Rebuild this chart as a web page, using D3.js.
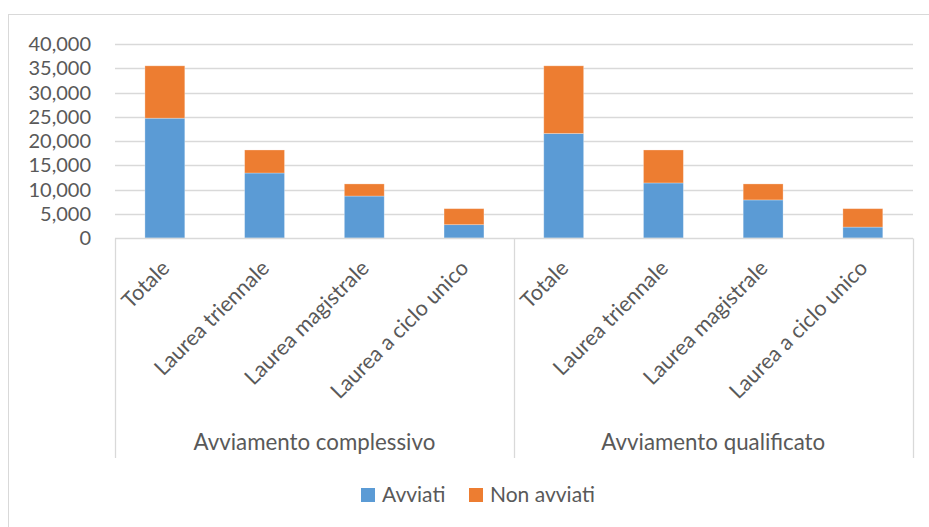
<!DOCTYPE html>
<html>
<head>
<meta charset="utf-8">
<script src="https://cdn.jsdelivr.net/npm/d3@7"></script>
<style>
  html, body { margin: 0; padding: 0; background: #fff; }
  svg { display: block; font-family: Lato, "Open Sans", sans-serif; }
</style>
</head>
<body>
<svg id="chart" width="929" height="527"></svg>
<script>
// Group labels (outer axis level) and category labels (inner axis level)
const groups = ["Avviamento complessivo", "Avviamento qualificato"];
const categories = ["Totale", "Laurea triennale", "Laurea magistrale", "Laurea a ciclo unico"];
const seriesNames = ["Avviati", "Non avviati"];
const seriesColors = ["#5b9bd5", "#ed7d31"];

// Values per bar, in order: complessivo (4 bars), then qualificato (4 bars)
const avviati    = [24700, 13400, 8650, 2750, 21550, 11350, 7850, 2250];
const nonAvviati = [10800,  4750, 2500, 3300, 13950,  6800, 3300, 3800];

const yTicks = [0, 5000, 10000, 15000, 20000, 25000, 30000, 35000, 40000];

const W = 929, H = 527;
const margin = { left: 115, right: 16, top: 44, plotBottom: 238 };
const svg = d3.select("#chart");

// outer chart frame
svg.append("rect")
  .attr("x", 8.5).attr("y", 14.5)
  .attr("width", 940).attr("height", 540)
  .attr("fill", "none").attr("stroke", "#d9d9d9").attr("stroke-width", 1);

const rows = [];
groups.forEach((g, gi) => categories.forEach((c, ci) => {
  const i = gi * categories.length + ci;
  rows.push({ key: g + "|" + c, group: g, cat: c, Avviati: avviati[i], "Non avviati": nonAvviati[i] });
}));

const x = d3.scaleBand()
  .domain(rows.map(d => d.key))
  .range([margin.left, W - margin.right - 0.3])
  .paddingInner(0.6).paddingOuter(0.3);

const y = d3.scaleLinear().domain([0, 40000]).range([margin.plotBottom, margin.top]);

// gridlines
svg.append("g")
  .selectAll("line").data(yTicks.slice(1)).join("line")
  .attr("x1", margin.left).attr("x2", W - margin.right)
  .attr("y1", d => Math.round(y(d)) + 0.5).attr("y2", d => Math.round(y(d)) + 0.5)
  .attr("stroke", "#d9d9d9").attr("stroke-width", 1.3);

// y axis labels
const fmt = d3.format(",");
svg.append("g")
  .selectAll("text").data(yTicks).join("text")
  .attr("x", 91).attr("y", d => y(d))
  .attr("dy", "0.36em")
  .attr("text-anchor", "end")
  .attr("fill", "#595959")
  .attr("font-size", 20)
  .text(d => fmt(d));

// stacked bars
const stack = d3.stack().keys(seriesNames);
const layers = stack(rows);
svg.append("g")
  .selectAll("g").data(layers).join("g")
  .attr("fill", (d, i) => seriesColors[i])
  .selectAll("rect").data(d => d).join("rect")
  .attr("x", d => x(d.data.key))
  .attr("width", x.bandwidth())
  .attr("y", d => y(d[1]))
  .attr("height", d => y(d[0]) - y(d[1]))
  .attr("stroke", "#fff").attr("stroke-opacity", 0.35).attr("stroke-width", 0.8);

// category axis line
const axisY = Math.round(y(0)) + 0.5;
svg.append("line")
  .attr("x1", margin.left).attr("x2", W - margin.right)
  .attr("y1", axisY).attr("y2", axisY)
  .attr("stroke", "#d9d9d9").attr("stroke-width", 1.3);

// group separators
const groupEdges = d3.range(groups.length + 1).map(i => margin.left + i * categories.length * (W - margin.right - 0.3 - margin.left) / rows.length);
svg.append("g")
  .selectAll("line").data(groupEdges).join("line")
  .attr("x1", d => Math.round(d) + 0.5).attr("x2", d => Math.round(d) + 0.5)
  .attr("y1", axisY).attr("y2", 458)
  .attr("stroke", "#d9d9d9").attr("stroke-width", 1.3);

// rotated category labels
svg.append("g")
  .selectAll("text").data(rows).join("text")
  .attr("transform", d => `translate(${x(d.key) + x.bandwidth() / 2 + 6},${axisY + 31}) rotate(-45)`)
  .attr("text-anchor", "end")
  .attr("fill", "#595959")
  .attr("font-size", 21.5)
  .text(d => d.cat);

// group labels
svg.append("g")
  .selectAll("text").data(groups).join("text")
  .attr("x", (d, i) => (groupEdges[i] + groupEdges[i + 1]) / 2)
  .attr("y", 450)
  .attr("text-anchor", "middle")
  .attr("fill", "#595959")
  .attr("font-size", 22.3)
  .text(d => d);

// legend
const legend = svg.append("g");
const legendItems = [{ name: seriesNames[0], x: 361 }, { name: seriesNames[1], x: 469 }];
legendItems.forEach((it, i) => {
  legend.append("rect")
    .attr("x", it.x).attr("y", 488).attr("width", 14).attr("height", 14)
    .attr("fill", seriesColors[i]);
  legend.append("text")
    .attr("x", it.x + 21).attr("y", 502)
    .attr("fill", "#595959").attr("font-size", 21)
    .text(it.name);
});
</script>
</body>
</html>
